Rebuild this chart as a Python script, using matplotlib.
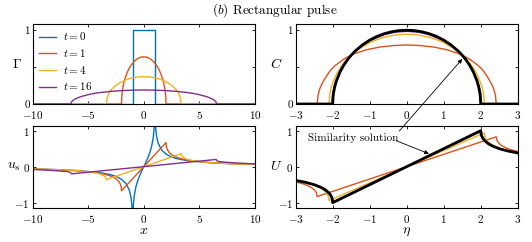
import matplotlib
matplotlib.use('Agg')
import matplotlib.pyplot as plt

plt.rcParams.update({
    'font.family': 'serif', 'font.serif': ['cmr10'], 'mathtext.fontset': 'cm',
    'axes.formatter.use_mathtext': True, 'font.size': 8,
    'xtick.direction': 'in', 'ytick.direction': 'in',
    'xtick.top': True, 'ytick.right': True,
    'xtick.major.size': 2.2, 'ytick.major.size': 2.2,
    'xtick.major.width': 0.6, 'ytick.major.width': 0.6,
    'xtick.major.pad': 3.5, 'ytick.major.pad': 2,
    'axes.linewidth': 0.8,
})

BLUE, ORANGE, YELLOW, PURPLE = '#0072BD', '#D95319', '#EDB120', '#7E2F8E'

# ---------------- Gamma(x) ----------------
legend_labels = [r'$t = 0$', r'$t = 1$', r'$t = 4$', r'$t = 16$']

x_g0 = [-10, -1, -1, 1, 1, 10]
g_t0 = [0, 0, 1, 1, 0, 0]

x_g1 = [-10, -2.0, -1.98, -1.94, -1.88, -1.8, -1.7, -1.6, -1.4, -1.2, -0.9, -0.6, -0.3, 0,
        0.3, 0.6, 0.9, 1.2, 1.4, 1.6, 1.7, 1.8, 1.88, 1.94, 1.98, 2.0, 10]
g_t1 = [0, 0, 0.09, 0.156, 0.218, 0.279, 0.337, 0.384, 0.457, 0.512, 0.572, 0.611, 0.633, 0.64,
        0.633, 0.611, 0.572, 0.512, 0.457, 0.384, 0.337, 0.279, 0.218, 0.156, 0.09, 0, 0]

x_g4 = [-10, -3.35, -3.32, -3.25, -3.15, -3.02, -2.85, -2.68, -2.35, -2.01, -1.51, -1.0, -0.5, 0,
        0.5, 1.0, 1.51, 2.01, 2.35, 2.68, 2.85, 3.02, 3.15, 3.25, 3.32, 3.35, 10]
g_t4 = [0, 0, 0.06, 0.10, 0.14, 0.175, 0.205, 0.23, 0.27, 0.30, 0.334, 0.355, 0.367, 0.37,
        0.367, 0.355, 0.334, 0.30, 0.27, 0.23, 0.205, 0.175, 0.14, 0.10, 0.06, 0, 0]

x_g16 = [-10, -6.55, -6.49, -6.35, -6.16, -5.9, -5.57, -5.24, -4.59, -3.93, -2.95, -1.97, -0.98, 0,
         0.98, 1.97, 2.95, 3.93, 4.59, 5.24, 5.57, 5.9, 6.16, 6.35, 6.49, 6.55, 10]
g_t16 = [0, 0, 0.03, 0.05, 0.068, 0.086, 0.103, 0.117, 0.14, 0.155, 0.171, 0.182, 0.188, 0.19,
         0.188, 0.182, 0.171, 0.155, 0.14, 0.117, 0.103, 0.086, 0.068, 0.05, 0.03, 0, 0]

# ---------------- u_s(x) ----------------
x_u0 = [-10, -8, -6, -4, -3, -2.5, -2, -1.6, -1.3, -1.15, -1.07, -1.03, -0.97, -0.93, -0.85, -0.7,
        -0.5, -0.3, -0.15, 0, 0.15, 0.3, 0.5, 0.7, 0.85, 0.93, 0.97, 1.03, 1.07, 1.15, 1.3, 1.6,
        2, 2.5, 3, 4, 6, 8, 10]
u_t0 = [-0.064, -0.080, -0.107, -0.163, -0.221, -0.270, -0.350, -0.467, -0.648, -0.847, -1.077,
        -1.34, -1.33, -1.055, -0.799, -0.552, -0.350, -0.197, -0.096, 0, 0.096, 0.197, 0.350,
        0.552, 0.799, 1.055, 1.33, 1.34, 1.077, 0.847, 0.648, 0.467, 0.350, 0.270, 0.221, 0.163,
        0.107, 0.080, 0.064]

x_u1 = [-10, -8, -6, -4.5, -3.5, -3, -2.6, -2.3, -2.12, -2.03, -2.0,
        2.0, 2.03, 2.12, 2.3, 2.6, 3, 3.5, 4.5, 6, 8, 10]
u_t1 = [-0.068, -0.085, -0.115, -0.157, -0.210, -0.256, -0.315, -0.390, -0.475, -0.564, -0.67,
        0.67, 0.564, 0.475, 0.390, 0.315, 0.256, 0.210, 0.157, 0.115, 0.085, 0.068]

x_u4 = [-10, -8, -6, -5, -4.3, -3.9, -3.6, -3.45, -3.39, -3.37,
        3.37, 3.39, 3.45, 3.6, 3.9, 4.3, 5, 6, 8, 10]
u_t4 = [-0.063, -0.080, -0.111, -0.140, -0.174, -0.207, -0.249, -0.290, -0.323, -0.36,
        0.36, 0.323, 0.290, 0.249, 0.207, 0.174, 0.140, 0.111, 0.080, 0.063]

x_u16 = [-10, -9, -8, -7.3, -6.8, -6.6, -6.5, 6.5, 6.6, 6.8, 7.3, 8, 9, 10]
u_t16 = [-0.076, -0.092, -0.11, -0.125, -0.14, -0.16, -0.2, 0.2, 0.16, 0.14, 0.125, 0.11, 0.092, 0.076]

# ---------------- C(eta) ----------------
eta_cs = [-3, -2.0, -1.99, -1.98, -1.95, -1.9, -1.8, -1.7, -1.6, -1.5, -1.4, -1.2, -1.0, -0.8, -0.6,
          -0.4, -0.2, 0, 0.2, 0.4, 0.6, 0.8, 1.0, 1.2, 1.4, 1.5, 1.6, 1.7, 1.8, 1.9, 1.95, 1.98,
          1.99, 2.0, 3]
c_sim = [0, 0, 0.0999, 0.141, 0.222, 0.312, 0.436, 0.527, 0.6, 0.661, 0.714, 0.8, 0.866, 0.917,
         0.954, 0.980, 0.995, 1, 0.995, 0.980, 0.954, 0.917, 0.866, 0.8, 0.714, 0.661, 0.6, 0.527,
         0.436, 0.312, 0.222, 0.141, 0.0999, 0, 0]

eta_c16 = [-3, -2.02, -2.0, -1.98, -1.95, -1.9, -1.8, -1.6, -1.4, -1.2, -1.0, -0.6, -0.3, 0,
           0.3, 0.6, 1.0, 1.2, 1.4, 1.6, 1.8, 1.9, 1.95, 1.98, 2.0, 2.02, 3]
c_t16 = [0, 0, 0.139, 0.195, 0.257, 0.334, 0.447, 0.601, 0.710, 0.792, 0.856, 0.941, 0.974, 0.985,
         0.974, 0.941, 0.856, 0.792, 0.710, 0.601, 0.447, 0.334, 0.257, 0.195, 0.139, 0, 0]

eta_c4 = [-3, -2.1, -2.08, -2.04, -1.97, -1.89, -1.785, -1.68, -1.47, -1.26, -0.945, -0.63, -0.315, 0,
          0.315, 0.63, 0.945, 1.26, 1.47, 1.68, 1.785, 1.89, 1.97, 2.04, 2.08, 2.1, 3]
c_t4 = [0, 0, 0.133, 0.23, 0.323, 0.412, 0.499, 0.568, 0.675, 0.757, 0.845, 0.902, 0.936, 0.946,
        0.936, 0.902, 0.845, 0.757, 0.675, 0.568, 0.499, 0.412, 0.323, 0.23, 0.133, 0, 0]

eta_c1 = [-3, -2.42, -2.396, -2.347, -2.275, -2.178, -2.057, -1.936, -1.694, -1.452, -1.089, -0.726,
          -0.363, 0, 0.363, 0.726, 1.089, 1.452, 1.694, 1.936, 2.057, 2.178, 2.275, 2.347, 2.396,
          2.42, 3]
c_t1 = [0, 0, 0.125, 0.21, 0.29, 0.37, 0.46, 0.52, 0.61, 0.675, 0.735, 0.772, 0.792, 0.80,
        0.792, 0.772, 0.735, 0.675, 0.61, 0.52, 0.46, 0.37, 0.29, 0.21, 0.125, 0, 0]

# ---------------- U(eta) ----------------
eta_us = [-3, -2.75, -2.5, -2.3, -2.2, -2.1, -2.05, -2.02, -2.005, -2, 0, 2, 2.005, 2.02, 2.05, 2.1,
          2.2, 2.3, 2.5, 2.75, 3]
U_sim = [-0.382, -0.431, -0.5, -0.582, -0.642, -0.730, -0.800, -0.868, -0.932, -1.0, 0, 1.0, 0.932,
         0.868, 0.800, 0.730, 0.642, 0.582, 0.5, 0.431, 0.382]

eta_U16 = [-3, -2.75, -2.5, -2.3, -2.15, -2.06, -2.03, -2.02, 2.02, 2.03, 2.06, 2.15, 2.3, 2.5, 2.75, 3]
U_t16 = [-0.383, -0.433, -0.503, -0.588, -0.693, -0.81, -0.896, -0.99,
         0.99, 0.896, 0.81, 0.693, 0.588, 0.503, 0.433, 0.383]

eta_U4 = [-3, -2.75, -2.5, -2.3, -2.2, -2.14, -2.11, -2.1, 2.1, 2.11, 2.14, 2.2, 2.3, 2.5, 2.75, 3]
U_t4 = [-0.384, -0.436, -0.512, -0.610, -0.691, -0.774, -0.853, -0.94,
        0.94, 0.853, 0.774, 0.691, 0.610, 0.512, 0.436, 0.384]

eta_U1 = [-3, -2.8, -2.65, -2.55, -2.48, -2.44, -2.42, 2.42, 2.44, 2.48, 2.55, 2.65, 2.8, 3]
U_t1 = [-0.421, -0.477, -0.539, -0.599, -0.665, -0.730, -0.83,
        0.83, 0.730, 0.665, 0.599, 0.539, 0.477, 0.421]

# ---------------- figure ----------------
W, H = 532, 242
fig = plt.figure(figsize=(W / 100, H / 100), dpi=100)

def px_axes(x0, x1, ytop, ybot):
    return fig.add_axes([x0 / W, 1 - ybot / H, (x1 - x0) / W, (ybot - ytop) / H])

ax1 = px_axes(32.5, 255, 24.3, 104)
ax2 = px_axes(295.7, 517.7, 24.3, 104)
ax3 = px_axes(32.5, 255, 126, 207.7)
ax4 = px_axes(295.7, 517.7, 126, 207.7)

lw = 1.0
blw = 2.0

ax1.plot(x_g0, g_t0, color=BLUE, lw=lw, label=legend_labels[0])
ax1.plot(x_g1, g_t1, color=ORANGE, lw=lw, label=legend_labels[1])
ax1.plot(x_g4, g_t4, color=YELLOW, lw=lw, label=legend_labels[2])
ax1.plot(x_g16, g_t16, color=PURPLE, lw=lw, label=legend_labels[3])
ax1.set_xlim(-10, 10)
ax1.set_ylim(0, 1.08)
ax1.set_xticks([-10, -5, 0, 5, 10])
ax1.set_yticks([0, 0.5, 1])
ax1.set_yticklabels(['0', '', '1'])
ax1.legend(loc='upper left', bbox_to_anchor=(0.0, 1.0), frameon=False, fontsize=8,
           handlelength=1.6, handletextpad=0.6, labelspacing=0.42, borderaxespad=0.2,
           borderpad=0.35)

ax2.plot(eta_c1, c_t1, color=ORANGE, lw=lw)
ax2.plot(eta_c4, c_t4, color=YELLOW, lw=lw)
ax2.plot(eta_c16, c_t16, color=PURPLE, lw=lw)
ax2.plot(eta_cs, c_sim, color='k', lw=blw)
ax2.set_xlim(-3, 3)
ax2.set_ylim(0, 1.08)
ax2.set_xticks([-3, -2, -1, 0, 1, 2, 3])
ax2.set_yticks([0, 0.5, 1])
ax2.set_yticklabels(['0', '', '1'])

ax3.plot(x_u0, u_t0, color=BLUE, lw=lw)
ax3.plot(x_u1, u_t1, color=ORANGE, lw=lw)
ax3.plot(x_u4, u_t4, color=YELLOW, lw=lw)
ax3.plot(x_u16, u_t16, color=PURPLE, lw=lw)
ax3.set_xlim(-10, 10)
ax3.set_ylim(-1.14, 1.13)
ax3.set_xticks([-10, -5, 0, 5, 10])
ax3.set_yticks([-1, 0, 1])

ax4.plot(eta_U1, U_t1, color=ORANGE, lw=lw)
ax4.plot(eta_U4, U_t4, color=YELLOW, lw=lw)
ax4.plot(eta_U16, U_t16, color=PURPLE, lw=lw)
ax4.plot(eta_us, U_sim, color='k', lw=blw)
ax4.set_xlim(-3, 3)
ax4.set_ylim(-1.14, 1.13)
ax4.set_xticks([-3, -2, -1, 0, 1, 2, 3])
ax4.set_yticks([-1, 0, 1])

for ax in (ax1, ax2, ax3, ax4):
    ax.tick_params(labelsize=8)

lab_fs = 10
ax1.set_ylabel(r'$\Gamma$', rotation=0, fontsize=lab_fs, ha='center', va='center')
ax1.yaxis.set_label_coords(-0.07, 0.5)
ax2.set_ylabel(r'$C$', rotation=0, fontsize=lab_fs, ha='center', va='center')
ax2.yaxis.set_label_coords(-0.089, 0.5)
ax3.set_ylabel(r'$u_s$', rotation=0, fontsize=lab_fs, ha='center', va='center')
ax3.yaxis.set_label_coords(-0.083, 0.5)
ax4.set_ylabel(r'$U$', rotation=0, fontsize=lab_fs, ha='center', va='center')
ax4.yaxis.set_label_coords(-0.089, 0.5)
ax3.set_xlabel(r'$x$', fontsize=lab_fs, va='center')
ax3.xaxis.set_label_coords(0.5, -0.28)
ax4.set_xlabel(r'$\eta$', fontsize=lab_fs, va='center')
ax4.xaxis.set_label_coords(0.5, -0.30)

fig.text(275 / W, 1 - 10 / H, r'$(b)$ Rectangular pulse', ha='center', va='center', fontsize=9.5)

ax4.text(-2.68, 0.80, 'Similarity solution', ha='left', va='center', fontsize=8)
arrow = dict(arrowstyle='-|>', lw=0.6, color='k', mutation_scale=6, shrinkA=0, shrinkB=0)
ax4.annotate('', xy=(1.5, 0.61), xycoords=ax2.transData, xytext=(-0.2, 0.99),
             textcoords=ax4.transData, arrowprops=arrow, annotation_clip=False)
ax4.annotate('', xy=(0.6, 0.36), xycoords=ax4.transData, xytext=(-0.28, 0.72),
             textcoords=ax4.transData, arrowprops=arrow, annotation_clip=False)

fig.savefig('out.png', dpi=100)
